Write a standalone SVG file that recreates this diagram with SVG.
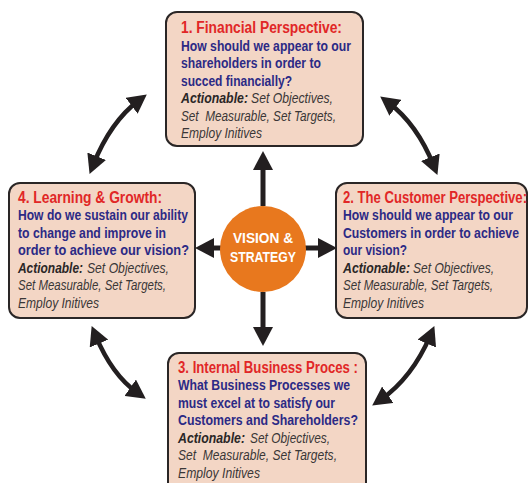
<svg xmlns="http://www.w3.org/2000/svg" width="529" height="483" viewBox="0 0 529 483">
  <style>
    .box { fill: #f3d6c5; stroke: #2a2626; stroke-width: 2; }
    text { font-family: "Liberation Sans", Arial, sans-serif; }
    .title { font-weight: bold; font-size: 16px; fill: #e12727; }
    .q { font-weight: bold; font-size: 14.5px; fill: #2c2a85; }
    .act { font-style: italic; font-size: 14px; fill: #3a3737; }
    .actb { font-style: italic; font-weight: bold; font-size: 14px; fill: #2a2626; }
    .hub { fill: #e8781e; }
    .hubtxt { font-weight: bold; font-size: 15.5px; fill: #ffffff; text-anchor: middle; }
    .link { fill: none; stroke: #231f20; stroke-width: 4.5; marker-start: url(#head); marker-end: url(#head); }
    .spoke { fill: none; stroke: #231f20; stroke-width: 5; marker-end: url(#head); }
  </style>
  <defs>
    <marker id="head" markerUnits="userSpaceOnUse" markerWidth="19" markerHeight="20" refX="9" refY="10" orient="auto-start-reverse" viewBox="0 0 19 20">
      <path d="M0,0 L19,10 L0,20 z" fill="#231f20"/>
    </marker>
  </defs>

  <!-- connectors: spokes from the hub and curved links between perspectives -->
  <g id="connectors">
    <path class="spoke" d="M263,206 L263,161"/>
    <path class="spoke" d="M263,292 L263,336"/>
    <path class="spoke" d="M221,248 L205,248"/>
    <path class="spoke" d="M305,248 L327,248"/>
    <path class="link" d="M93.3,164.6 Q110.6,121.6 138.8,100.4"/>
    <path class="link" d="M388.2,102.4 Q417,124 433.7,165.6"/>
    <path class="link" d="M430.4,335.3 Q412,378 380.4,399.9"/>
    <path class="link" d="M95.5,335.3 Q112,375 137.6,392.9"/>
  </g>

  <!-- hub -->
  <g id="vision-strategy">
    <circle class="hub" cx="263" cy="249" r="43"/>
    <g transform="translate(263 0) scale(0.82 1)">
      <text class="hubtxt" x="0" y="243" textLength="73.2" lengthAdjust="spacingAndGlyphs">VISION &amp;</text>
      <text class="hubtxt" x="0" y="262" textLength="80.5" lengthAdjust="spacingAndGlyphs">STRATEGY</text>
    </g>
  </g>

  <!-- 1. Financial -->
  <g id="financial">
    <rect class="box" x="166" y="12" width="197" height="134" rx="11"/>
    <g transform="translate(181 0) scale(0.82 1)">
      <text class="title" x="0" y="33" textLength="196.3" lengthAdjust="spacingAndGlyphs">1. Financial Perspective:</text>
      <text class="q" x="0" y="51" textLength="207.3" lengthAdjust="spacingAndGlyphs">How should we appear to our</text>
      <text class="q" x="0" y="68.5" textLength="170.7" lengthAdjust="spacingAndGlyphs">shareholders in order to</text>
      <text class="q" x="0" y="86" textLength="135.4" lengthAdjust="spacingAndGlyphs">succed financially?</text>
      <text class="actb" x="0" y="103.5" textLength="81.7" lengthAdjust="spacingAndGlyphs">Actionable:</text>
      <text class="act" x="85.4" y="103.5" textLength="100" lengthAdjust="spacingAndGlyphs">Set Objectives,</text>
      <text class="act" x="0" y="121" textLength="189" lengthAdjust="spacingAndGlyphs" xml:space="preserve">Set  Measurable, Set Targets,</text>
      <text class="act" x="0" y="138.5" textLength="98.8" lengthAdjust="spacingAndGlyphs">Employ Initives</text>
    </g>
  </g>

  <!-- 2. Customer -->
  <g id="customer">
    <rect class="box" x="336" y="183" width="191" height="135" rx="11"/>
    <g transform="translate(343 0) scale(0.82 1)">
      <text class="title" x="0" y="203" textLength="224.4" lengthAdjust="spacingAndGlyphs">2. The Customer Perspective:</text>
      <text class="q" x="0" y="220.5" textLength="207.3" lengthAdjust="spacingAndGlyphs">How should we appear to our</text>
      <text class="q" x="0" y="238" textLength="214.6" lengthAdjust="spacingAndGlyphs">Customers in order to achieve</text>
      <text class="q" x="0" y="255.5" textLength="78" lengthAdjust="spacingAndGlyphs">our vision?</text>
      <text class="actb" x="0" y="273" textLength="81.7" lengthAdjust="spacingAndGlyphs">Actionable:</text>
      <text class="act" x="85.4" y="273" textLength="98.8" lengthAdjust="spacingAndGlyphs">Set Objectives,</text>
      <text class="act" x="0" y="290.5" textLength="182.9" lengthAdjust="spacingAndGlyphs">Set Measurable, Set Targets,</text>
      <text class="act" x="0" y="308" textLength="98.8" lengthAdjust="spacingAndGlyphs">Employ Initives</text>
    </g>
  </g>

  <!-- 3. Internal Business -->
  <g id="internal">
    <rect class="box" x="168" y="353" width="198" height="150" rx="11"/>
    <g transform="translate(178 0) scale(0.82 1)">
      <text class="title" x="0" y="373" textLength="219.5" lengthAdjust="spacingAndGlyphs">3. Internal Business Proces :</text>
      <text class="q" x="0" y="390.5" textLength="209.8" lengthAdjust="spacingAndGlyphs">What Business Processes we</text>
      <text class="q" x="0" y="408" textLength="191.5" lengthAdjust="spacingAndGlyphs">must excel at to satisfy our</text>
      <text class="q" x="0" y="425.5" textLength="219.5" lengthAdjust="spacingAndGlyphs">Customers and Shareholders?</text>
      <text class="actb" x="0" y="443" textLength="81.7" lengthAdjust="spacingAndGlyphs">Actionable:</text>
      <text class="act" x="87.8" y="443" textLength="97.6" lengthAdjust="spacingAndGlyphs">Set Objectives,</text>
      <text class="act" x="0" y="460.5" textLength="193.9" lengthAdjust="spacingAndGlyphs" xml:space="preserve">Set  Measurable, Set Targets,</text>
      <text class="act" x="0" y="478" textLength="100" lengthAdjust="spacingAndGlyphs">Employ Initives</text>
    </g>
  </g>

  <!-- 4. Learning & Growth -->
  <g id="learning">
    <rect class="box" x="9" y="183" width="186" height="135" rx="11"/>
    <g transform="translate(18 0) scale(0.82 1)">
      <text class="title" x="0" y="203" textLength="175.6" lengthAdjust="spacingAndGlyphs">4. Learning &amp; Growth:</text>
      <text class="q" x="0" y="220.5" textLength="207.3" lengthAdjust="spacingAndGlyphs">How do we sustain our ability</text>
      <text class="q" x="0" y="238" textLength="180.5" lengthAdjust="spacingAndGlyphs">to change and improve in</text>
      <text class="q" x="0" y="255.5" textLength="208.5" lengthAdjust="spacingAndGlyphs">order to achieve our vision?</text>
      <text class="actb" x="0" y="273" textLength="79.3" lengthAdjust="spacingAndGlyphs">Actionable:</text>
      <text class="act" x="84.1" y="273" textLength="100" lengthAdjust="spacingAndGlyphs">Set Objectives,</text>
      <text class="act" x="0" y="290.5" textLength="180.5" lengthAdjust="spacingAndGlyphs">Set Measurable, Set Targets,</text>
      <text class="act" x="0" y="308" textLength="98.8" lengthAdjust="spacingAndGlyphs">Employ Initives</text>
    </g>
  </g>
</svg>
